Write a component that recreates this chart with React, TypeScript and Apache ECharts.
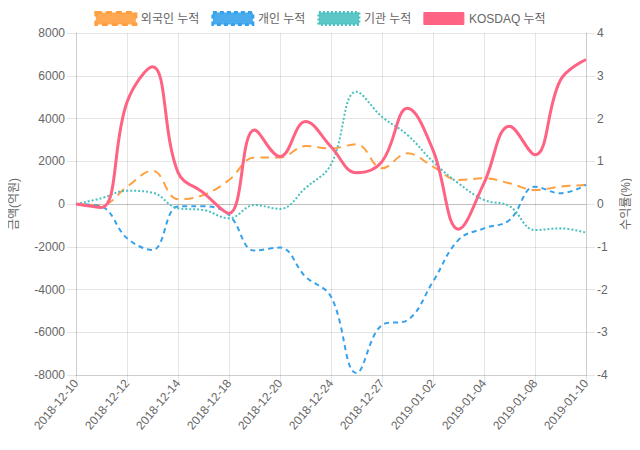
import React, { useEffect, useRef } from "react";
import * as echarts from "echarts";

const categories = [
  "2018-12-10", "2018-12-11", "2018-12-12", "2018-12-13", "2018-12-14",
  "2018-12-17", "2018-12-18", "2018-12-19", "2018-12-20", "2018-12-21",
  "2018-12-24", "2018-12-26", "2018-12-27", "2018-12-28", "2019-01-02",
  "2019-01-03", "2019-01-04", "2019-01-07", "2019-01-08", "2019-01-09",
  "2019-01-10",
];
const foreignCum = [0, -50, 810, 1560, 220, 420, 1120, 2180, 2180, 2710, 2600, 2800, 1670, 2370, 1750, 1120, 1200, 970, 650, 810, 890];
const individualCum = [0, -120, -1600, -2150, -120, -100, -510, -2180, -2040, -3400, -4340, -7910, -5660, -5430, -3630, -1680, -1140, -750, 810, 500, 890];
const institutionCum = [0, 270, 620, 530, -200, -280, -670, -50, -230, 750, 1850, 5250, 4080, 3230, 1980, 970, 190, -100, -1220, -1140, -1340];
const kosdaqCum = [0, -0.08, 2.38, 3.21, 0.74, 0.26, -0.22, 1.73, 1.11, 1.93, 1.34, 0.73, 0.99, 2.24, 1.26, -0.59, 0.49, 1.82, 1.15, 2.9, 3.38];

const FONT = "'Liberation Sans', Arial, 'Noto Sans CJK KR', sans-serif";
const GRID = "rgba(0,0,0,0.1)";
const ZERO = "rgba(0,0,0,0.25)";

export default function App() {
  const ref = useRef<HTMLDivElement>(null);
  useEffect(() => {
    if (!ref.current) return;
    const chart = echarts.init(ref.current, undefined, { renderer: "svg" });
    const splitColors = [GRID, GRID, GRID, GRID, ZERO, GRID, GRID, GRID, GRID];
    chart.setOption({
      animation: false,
      textStyle: { fontFamily: FONT },
      legend: {
        top: 6,
        left: "center",
        itemWidth: 40,
        itemHeight: 12,
        itemGap: 12,
        textStyle: { color: "#666", fontSize: 12, fontFamily: FONT },
        data: [
          { name: "외국인 누적", icon: "rect", itemStyle: { color: "rgba(255,159,64,0.9)", borderColor: "#ff9f40", borderWidth: 3, borderType: [6, 4] } },
          { name: "개인 누적", icon: "rect", itemStyle: { color: "rgba(54,162,235,0.9)", borderColor: "#36a2eb", borderWidth: 3, borderType: [4, 3] } },
          { name: "기관 누적", icon: "rect", itemStyle: { color: "rgba(75,192,192,0.9)", borderColor: "#4bc0c0", borderWidth: 3, borderType: [2, 2] } },
          { name: "KOSDAQ 누적", icon: "rect", itemStyle: { color: "#ff6384", borderColor: "#ff6384", borderWidth: 1 } },
        ],
      },
      grid: { left: 70, right: 49, top: 33, bottom: 75, containLabel: false },
      xAxis: {
        type: "category",
        data: categories,
        boundaryGap: false,
        axisLine: { show: true, onZero: false, lineStyle: { color: GRID } },
        axisTick: { show: true, interval: 1, length: 8, lineStyle: { color: GRID } },
        axisLabel: { interval: 1, rotate: 50, color: "#666", fontSize: 12, fontFamily: FONT, margin: 6 },
        splitLine: { show: true, interval: 1, lineStyle: { color: GRID } },
      },
      yAxis: [
        {
          type: "value",
          min: -8000,
          max: 8000,
          interval: 2000,
          name: "금액(억원)",
          nameLocation: "middle",
          nameGap: 56,
          nameTextStyle: { color: "#666", fontSize: 12, fontFamily: FONT },
          axisLine: { show: true, lineStyle: { color: GRID } },
          axisTick: { show: true, length: 9, lineStyle: { color: GRID } },
          axisLabel: { color: "#666", fontSize: 12, fontFamily: FONT, margin: 11, formatter: (v: number) => String(v) },
          splitLine: { show: true, lineStyle: { color: splitColors } },
        },
        {
          type: "value",
          min: -4,
          max: 4,
          interval: 1,
          name: "수익률(%)",
          nameLocation: "middle",
          nameGap: 34,
          nameTextStyle: { color: "#666", fontSize: 12, fontFamily: FONT },
          axisLine: { show: true, lineStyle: { color: GRID } },
          axisTick: { show: true, length: 9, lineStyle: { color: GRID } },
          axisLabel: { color: "#666", fontSize: 12, fontFamily: FONT, margin: 11, formatter: (v: number) => String(v) },
          splitLine: { show: false },
        },
      ],
      series: [
        {
          name: "외국인 누적",
          type: "line",
          data: foreignCum,
          yAxisIndex: 0,
          smooth: 0.4,
          symbol: "none",
          z: 3,
          lineStyle: { color: "#ff9f40", width: 2, type: [9, 6] },
          itemStyle: { color: "#ff9f40" },
        },
        {
          name: "개인 누적",
          type: "line",
          data: individualCum,
          yAxisIndex: 0,
          smooth: 0.4,
          symbol: "none",
          z: 3,
          lineStyle: { color: "#36a2eb", width: 2, type: [5, 4] },
          itemStyle: { color: "#36a2eb" },
        },
        {
          name: "기관 누적",
          type: "line",
          data: institutionCum,
          yAxisIndex: 0,
          smooth: 0.4,
          symbol: "none",
          z: 3,
          lineStyle: { color: "#4bc0c0", width: 2, type: [2, 2] },
          itemStyle: { color: "#4bc0c0" },
        },
        {
          name: "KOSDAQ 누적",
          type: "line",
          data: kosdaqCum,
          yAxisIndex: 1,
          smooth: 0.4,
          symbol: "none",
          z: 4,
          lineStyle: { color: "#ff6384", width: 3 },
          itemStyle: { color: "#ff6384" },
        },
      ],
    });
    return () => chart.dispose();
  }, []);
  return <div ref={ref} style={{ width: 640, height: 450, margin: -8 }} />;
}
